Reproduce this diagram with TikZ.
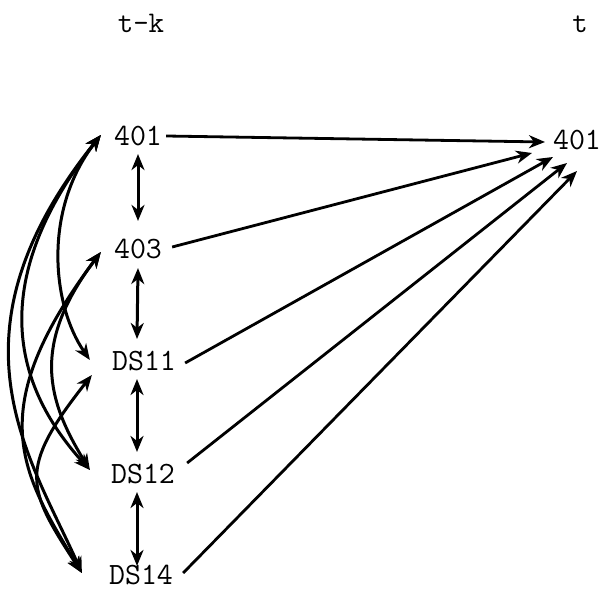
\documentclass[tikz,border=0pt]{standalone}
\usepackage{fontspec}
\usetikzlibrary{arrows.meta}
\tikzset{
  var/.style  = {font=\ttfamily\fontsize{31}{34}\selectfont, inner sep=0pt},
  lag/.style  = {font=\ttfamily\fontsize{30}{34}\selectfont, inner sep=0pt, anchor=base},
  arr/.style  = {-{Stealth[length=16pt,width=13pt,inset=5pt]}, line width=2.8pt},
  darr/.style = {{Stealth[length=16pt,width=13pt,inset=5pt]}-{Stealth[length=16pt,width=13pt,inset=5pt]},
                 line width=3pt},
}

\begin{document}
\begin{tikzpicture}[x=1pt,y=-1pt]
  \useasboundingbox (0,0) rectangle (604,593);
  % time labels
  \node[lag] (tk) at (141,33) {t-k};
  \node[lag] (tt) at (580,33) {t};
  % series at t-k
  \node[var] (a401) at (138,136) {401};
  \node[var] (a403) at (138,249) {403};
  \node[var] (ds11) at (144,361) {DS11};
  \node[var] (ds12) at (143,474) {DS12};
  \node[var] (ds14) at (141,575) {DS14};
  % series at t
  \node[var] (b401) at (577,140) {401};
  % tips of the curved links
  \coordinate (h401) at ([shift={(-13pt,1pt)}]a401.west);
  \coordinate (h403) at ([shift={(-13pt,-3pt)}]a403.west);
  \coordinate (h11a) at ([shift={(-22pt,1pt)}]ds11.west);
  \coordinate (h11b) at ([shift={(-20pt,-14pt)}]ds11.west);
  \coordinate (h12)  at ([shift={(-21pt,4pt)}]ds12.west);
  \coordinate (h14)  at ([shift={(-27pt,2pt)}]ds14.west);
  % neighbours
  \draw[darr] ([yshift=-8pt]a401.south) -- ([yshift=18pt]a403.north);
  \draw[darr] ([yshift=-9pt]a403.south) -- ([shift={(-7pt,12pt)}]ds11.north);
  \draw[darr] ([shift={(-7pt,-8pt)}]ds11.south) -- ([shift={(-6pt,12pt)}]ds12.north);
  \draw[darr] ([shift={(-6pt,-8pt)}]ds12.south) -- ([shift={(-4pt,-1pt)}]ds14.north);
  % the rest, bowed to the left
  \draw[darr] (h401) .. controls +(-58,75) and +(-38,-55) .. (h11a);
  \draw[darr] (h401) .. controls +(-125,160) and +(-65,-72) .. (h12);
  \draw[darr] (h401) .. controls +(-160,200) and +(-52,-117) .. (h14);
  \draw[darr] (h403) .. controls +(-70,93) and +(-43,-70) .. (h12);
  \draw[darr] (h403) .. controls +(-120,160) and +(-60,-100) .. (h14);
  \draw[darr] (h11b) .. controls +(-75,95) and +(-55,-85) .. (h14);
  % into 401 at t
  \draw[arr] ([xshift=4pt]a401.east) -- ([shift={(-32pt,-2pt)}]b401.center);
  \draw[arr] ([shift={(10pt,2pt)}]a403.east) -- ([shift={(-45pt,-13pt)}]b401.center);
  \draw[arr] ([shift={(9pt,-2pt)}]ds11.east) -- ([shift={(-24pt,-17pt)}]b401.center);
  \draw[arr] ([shift={(12pt,11pt)}]ds12.east) -- ([shift={(-10pt,-23pt)}]b401.center);
  \draw[arr] ([shift={(10pt,2pt)}]ds14.east) -- ([shift={(0pt,-31pt)}]b401.center);
\end{tikzpicture}
\end{document}
